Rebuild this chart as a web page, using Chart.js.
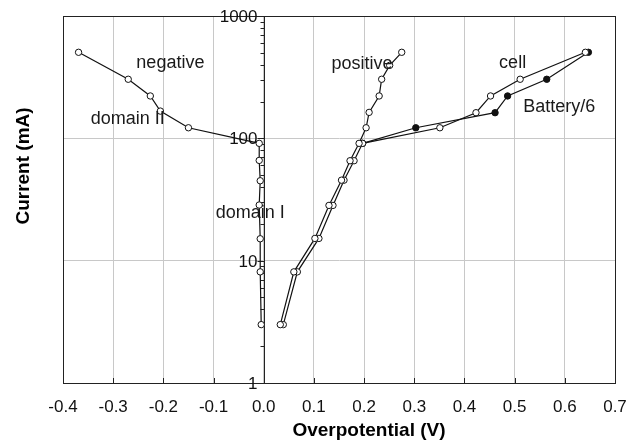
<!DOCTYPE html>
<html>
<head>
<meta charset="utf-8">
<script src="https://cdn.jsdelivr.net/npm/chart.js@4.4.0/dist/chart.umd.min.js"></script>
<style>
    html, body { margin: 0; padding: 0; background: #fff; }
    #wrap { width: 643px; height: 446px; }
</style>
</head>
<body>
<div id="wrap"><canvas id="graph_canvas" width="643" height="446"></canvas></div>
<script>
// currents (mA) and overpotentials (V)
const CURRENT_NEG = [505, 304, 222, 167, 122, 91, 66, 45, 28.5, 15.1, 8.1, 3.0];
const ETA_NEG = [-0.369, -0.270, -0.226, -0.206, -0.150, -0.009, -0.009, -0.007, -0.009, -0.007, -0.007, -0.005];

const CURRENT_POS = [3.0, 8.1, 15.2, 28.3, 45.5, 65.6, 91, 122, 163, 222, 304, 395, 505];
const ETA_POS = [0.033, 0.060, 0.102, 0.130, 0.155, 0.172, 0.190, 0.204, 0.210, 0.230, 0.235, 0.251, 0.275];

const CURRENT_CELL = [3.0, 8.1, 15.2, 28.3, 45.5, 65.6, 91, 122, 162, 222, 304, 505];
const ETA_CELL = [0.039, 0.067, 0.110, 0.138, 0.160, 0.180, 0.197, 0.351, 0.423, 0.452, 0.511, 0.641];

const CURRENT_BATT = [91, 122, 162, 222, 304, 505];
const ETA_BATT = [0.197, 0.303, 0.461, 0.486, 0.564, 0.647];

const X_MIN = -0.4, X_MAX = 0.7;
const Y_DECADES = [1, 10, 100, 1000];

// text written inside the plot, placed in data coordinates
const NOTE_TEXT = ['negative', 'domain II', 'positive', 'domain I', 'cell', 'Battery/6'];
const NOTE_X = [-0.186, -0.271, 0.196, -0.027, 0.496, 0.589];
const NOTE_Y = [411, 144, 405, 24.5, 411, 181];

const FONT = '"Liberation Sans", Arial, Helvetica, sans-serif';

function toPoints(xs, ys) {
    return xs.map((x, i) => ({ x: x, y: ys[i] }));
}

function series(label, xs, ys, filled) {
    return {
        label: label,
        data: toPoints(xs, ys),
        showLine: true,
        borderColor: '#111',
        borderWidth: 1.2,
        pointRadius: 3.2,
        pointBorderWidth: 1,
        pointBorderColor: '#111',
        pointBackgroundColor: filled ? '#111' : '#fff',
        tension: 0
    };
}

// frame, the y axis drawn at x = 0 and the inward x ticks
const axisPlugin = {
    id: 'axisAtZero',
    beforeDatasetsDraw(chart) {
        const ctx = chart.ctx, area = chart.chartArea;
        const xs = chart.scales.x, ys = chart.scales.y;
        ctx.save();
        ctx.strokeStyle = '#222';
        ctx.lineWidth = 1;
        ctx.strokeRect(area.left + 0.5, area.top + 0.5, area.right - area.left, area.bottom - area.top);

        // inward ticks on the bottom axis
        for (let v = X_MIN; v <= X_MAX + 1e-9; v += 0.1) {
            const px = Math.round(xs.getPixelForValue(v)) + 0.5;
            ctx.beginPath();
            ctx.moveTo(px, area.bottom);
            ctx.lineTo(px, area.bottom - 5);
            ctx.stroke();
        }

        const x0 = Math.round(xs.getPixelForValue(0)) + 0.5;
        ctx.beginPath();
        ctx.moveTo(x0, area.top);
        ctx.lineTo(x0, area.bottom);
        ctx.stroke();

        ctx.fillStyle = '#111';
        ctx.font = '17px ' + FONT;
        ctx.textAlign = 'right';
        ctx.textBaseline = 'middle';
        Y_DECADES.forEach((d, i) => {
            const py = Math.round(ys.getPixelForValue(d)) + 0.5;
            ctx.beginPath();
            ctx.moveTo(x0, py);
            ctx.lineTo(x0 - 7, py);
            ctx.stroke();
            ctx.fillText(String(d), x0 - 7, py + 1);
            if (i < Y_DECADES.length - 1) {
                for (let k = 2; k < 10; k++) {
                    const my = Math.round(ys.getPixelForValue(d * k)) + 0.5;
                    ctx.beginPath();
                    ctx.moveTo(x0, my);
                    ctx.lineTo(x0 - 4, my);
                    ctx.stroke();
                }
            }
        });
        ctx.restore();
    },
    afterDraw(chart) {
        const ctx = chart.ctx;
        const xs = chart.scales.x, ys = chart.scales.y;
        ctx.save();
        ctx.fillStyle = '#1a1a1a';
        ctx.font = '18px ' + FONT;
        ctx.textAlign = 'center';
        ctx.textBaseline = 'middle';
        NOTE_TEXT.forEach((t, i) => {
            ctx.fillText(t, xs.getPixelForValue(NOTE_X[i]), ys.getPixelForValue(NOTE_Y[i]));
        });

        // axis titles
        ctx.fillStyle = '#000';
        ctx.font = 'bold 19px ' + FONT;
        ctx.fillText('Overpotential (V)', 369, 431);
        ctx.translate(24, 166);
        ctx.rotate(-Math.PI / 2);
        ctx.fillText('Current (mA)', 0, 0);
        ctx.restore();
    }
};

document.addEventListener('DOMContentLoaded', function () {
    new Chart(document.getElementById('graph_canvas'), {
        type: 'scatter',
        data: {
            datasets: [
                series('negative', ETA_NEG, CURRENT_NEG, false),
                series('positive', ETA_POS, CURRENT_POS, false),
                series('cell', ETA_CELL, CURRENT_CELL, false),
                series('Battery/6', ETA_BATT, CURRENT_BATT, true)
            ]
        },
        options: {
            responsive: false,
            animation: false,
            layout: { padding: { top: 16, right: 28, left: 0, bottom: 0 } },
            plugins: {
                legend: { display: false },
                tooltip: { enabled: false }
            },
            scales: {
                x: {
                    type: 'linear',
                    min: X_MIN,
                    max: X_MAX,
                    afterFit: (s) => { s.height = 63; },
                    ticks: {
                        stepSize: 0.1,
                        color: '#111',
                        padding: 14,
                        maxRotation: 0,
                        font: { family: FONT, size: 17 },
                        callback: (v) => Math.abs(v) < 1e-9 ? '0.0' : Number(v).toFixed(1)
                    },
                    grid: {
                        drawTicks: false,
                        color: '#c8c8c8',
                        lineWidth: 1
                    },
                    border: { color: '#222', width: 1 }
                },
                y: {
                    type: 'logarithmic',
                    min: 1,
                    max: 1000,
                    afterFit: (s) => { s.width = 63; },
                    ticks: { display: false },
                    grid: {
                        drawTicks: false,
                        lineWidth: 1,
                        color: (c) => (c.tick && (c.tick.value === 10 || c.tick.value === 100)) ? '#c8c8c8' : 'rgba(0,0,0,0)'
                    },
                    border: { color: '#222', width: 1 }
                }
            }
        },
        plugins: [axisPlugin]
    });
});
</script>
</body>
</html>
